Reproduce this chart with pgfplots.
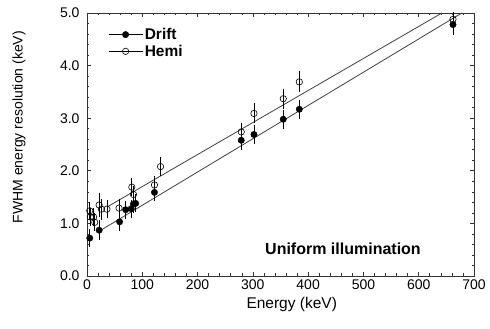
\documentclass[border=0pt]{standalone}
\usepackage{pgfplots}
\pgfplotsset{compat=1.18}
\usepackage{pgfplotstable}
\usepackage{fontspec}
\setmainfont{Liberation Sans}
\pgfplotstableread{
x y e
5 0.72 0.12
22 0.87 0.14
59 1.03 0.12
70 1.26 0.12
80 1.28 0.12
84 1.37 0.12
88 1.38 0.12
122 1.59 0.12
279 2.58 0.13
302 2.69 0.13
355 2.98 0.13
384 3.17 0.13
662 4.78 0.15
}\drift
\pgfplotstableread{
x y e
5 1.24 0.12
6 1.12 0.12
12 1.12 0.12
14 1.02 0.12
22 1.35 0.18
26 1.27 0.15
36 1.27 0.12
58 1.29 0.12
81 1.69 0.12
84 1.55 0.12
122 1.73 0.12
133 2.08 0.13
279 2.74 0.12
302 3.09 0.14
355 3.37 0.14
384 3.69 0.15
662 4.88 0.10
}\hemi
\begin{document}
\begin{tikzpicture}
\begin{axis}[
  name=ax,
  scale only axis,
  width=387pt, height=263pt,
  xmin=0, xmax=700, ymin=0, ymax=5,
  xtick={0,100,...,700}, ytick={0,1,...,5},
  minor x tick num=4, minor y tick num=4,
  tick align=inside,
  major tick length=4pt, minor tick length=2.5pt,
  /pgf/number format/assume math mode=true,
  tick label style={font=\fontsize{14}{16}\selectfont, black},
  yticklabel style={xshift=-4pt, /pgf/number format/.cd, fixed, fixed zerofill, precision=1},
  xlabel={Energy (keV)}, ylabel={FWHM energy resolution (keV)},
  every axis x label/.style={at={(axis description cs:0.529,-0.110)}, anchor=center,
    font=\fontsize{15.5}{18}\selectfont},
  every axis y label/.style={at={(axis description cs:-0.1757,0.566)}, anchor=center, rotate=90,
    font=\fontsize{14}{16}\selectfont},
  axis line style={line width=0.9pt, black!80},
  every tick/.style={black!80, line width=0.6pt},
  legend style={at={(0.047,0.958)}, anchor=north west, draw=none, fill=none,
    font=\bfseries\fontsize{15.5}{18}\selectfont, cells={anchor=west}},
  legend image code/.code={\draw[#1] (0pt,0pt) -- (34pt,0pt); \draw[#1] plot coordinates {(17pt,0pt)};},
]
\addplot[forget plot, black!75, line width=0.8pt] coordinates {(25,0.87) (678,5.0)};
\addplot[forget plot, black!75, line width=0.8pt] coordinates {(36,1.31) (642,5.0)};
\addplot[only marks, black, mark=*, mark size=3.2pt,
  error bars/.cd, y dir=both, y explicit,
  error bar style={line width=0.6pt, black},
  error mark options={mark size=2.6pt, line width=0.6pt, black}]
  table[x=x, y=y, y error=e] {\drift};
\addlegendentry{Drift}
\addplot[only marks, black, mark=o, mark size=3.2pt, mark options={line width=0.6pt},
  error bars/.cd, y dir=both, y explicit,
  error bar style={line width=0.6pt, black},
  error mark options={mark size=2.6pt, line width=0.6pt, black}]
  table[x=x, y=y, y error=e] {\hemi};
\addlegendentry{Hemi}
\node[font=\bfseries\fontsize{16}{18}\selectfont] at (axis cs:463,0.52) {Uniform illumination};
\end{axis}
\pgfresetboundingbox
\path ([shift={(-87pt,-53pt)}]ax.south west) rectangle ([shift={(16pt,13pt)}]ax.north east);
\end{tikzpicture}
\end{document}
